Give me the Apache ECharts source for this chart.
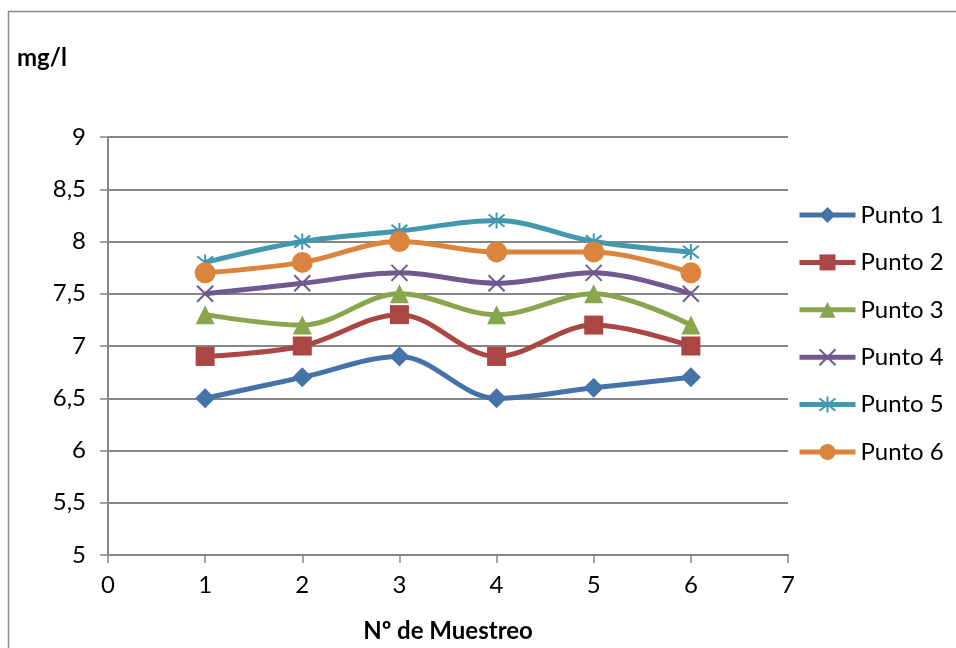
<!DOCTYPE html>
<html>
<head>
<meta charset="utf-8">
<script src="https://cdn.jsdelivr.net/npm/echarts@6/dist/echarts.min.js"></script>
<style>
  html, body { margin: 0; padding: 0; background: #fff; }
  #chart { width: 956px; height: 648px; }
</style>
</head>
<body>
<div id="chart"></div>
<script>
// Sampling rounds (x) and dissolved concentration in mg/l per monitoring point
const muestreos = [1, 2, 3, 4, 5, 6];
const punto1 = [6.5, 6.7, 6.9, 6.5, 6.6, 6.7];
const punto2 = [6.9, 7.0, 7.3, 6.9, 7.2, 7.0];
const punto3 = [7.3, 7.2, 7.5, 7.3, 7.5, 7.2];
const punto4 = [7.5, 7.6, 7.7, 7.6, 7.7, 7.5];
const punto5 = [7.8, 8.0, 8.1, 8.2, 8.0, 7.9];
const punto6 = [7.7, 7.8, 8.0, 7.9, 7.9, 7.7];
const nombres = ['Punto 1', 'Punto 2', 'Punto 3', 'Punto 4', 'Punto 5', 'Punto 6'];

const FONT = 'Lato, "Open Sans", sans-serif';
const colores = ['#4572A7', '#AA4643', '#89A54E', '#71588F', '#4198AF', '#DB843D'];

const crossPath = 'path://M0,0L10,10M10,0L0,10';
const starPath = 'path://M0,0L10,10M10,0L0,10M5,-1.5L5,11.5';

const marcadores = [
  { symbol: 'diamond', size: 20 },
  { symbol: 'rect', size: 19 },
  { symbol: 'triangle', size: 19 },
  { symbol: crossPath, size: 16, stroke: true },
  { symbol: starPath, size: 16, stroke: true },
  { symbol: 'circle', size: 21 }
];

const valores = [punto1, punto2, punto3, punto4, punto5, punto6];

const series = valores.map((vals, i) => {
  const m = marcadores[i];
  const s = {
    name: nombres[i],
    type: 'line',
    smooth: 0.35,
    data: muestreos.map((x, k) => [x, vals[k]]),
    symbol: m.symbol,
    symbolSize: m.size,
    showAllSymbol: true,
    lineStyle: { color: colores[i], width: 5 },
    itemStyle: { color: colores[i], opacity: 1 },
    z: 2 + i
  };
  if (m.stroke) {
    s.itemStyle = { color: 'rgba(0,0,0,0)', borderColor: colores[i], borderWidth: 2 };
  }
  return s;
});

const chart = echarts.init(document.getElementById('chart'), null, { renderer: 'canvas' });
chart.setOption({
  backgroundColor: '#fff',
  animation: false,
  graphic: [
    {
      type: 'rect',
      shape: { x: 8.5, y: 11.5, width: 960, height: 660 },
      style: { fill: 'none', stroke: '#8c8c8c', lineWidth: 1.5 },
      silent: true,
      z: -1
    },
    {
      type: 'text',
      left: 17, top: 46,
      style: { text: 'mg/l', font: 'bold 24px ' + FONT, fill: '#000' }
    }
  ],
  grid: { left: 108, right: 168, top: 137, bottom: 83, containLabel: false },
  legend: {
    orient: 'vertical',
    left: 792,
    top: 198,
    itemWidth: 56,
    itemHeight: 20,
    itemGap: 23.4,
    lineStyle: { width: 5 },
    textStyle: { fontFamily: FONT, fontSize: 24, color: '#000' },
    data: nombres
  },
  xAxis: {
    type: 'value',
    min: 0, max: 7, interval: 1,
    name: 'Nº de Muestreo',
    nameLocation: 'middle',
    nameGap: 64,
    nameTextStyle: { fontFamily: FONT, fontSize: 24, fontWeight: 'bold', color: '#000' },
    axisLine: { show: true, lineStyle: { color: '#868686', width: 2 } },
    axisTick: { show: true, inside: false, length: 8, lineStyle: { color: '#868686', width: 1.5 } },
    axisLabel: { fontFamily: FONT, fontSize: 24, color: '#000', margin: 18 },
    splitLine: { show: false }
  },
  yAxis: {
    type: 'value',
    min: 5, max: 9, interval: 0.5,
    axisLine: { show: true, onZero: false, lineStyle: { color: '#868686', width: 2 } },
    axisTick: { show: true, inside: false, length: 8, lineStyle: { color: '#868686', width: 1.5 } },
    axisLabel: {
      fontFamily: FONT, fontSize: 24, color: '#000', margin: 22,
      formatter: v => String(v).replace('.', ',')
    },
    splitLine: { show: true, lineStyle: { color: '#868686', width: 2 } }
  },
  series: series
});
</script>
</body>
</html>
